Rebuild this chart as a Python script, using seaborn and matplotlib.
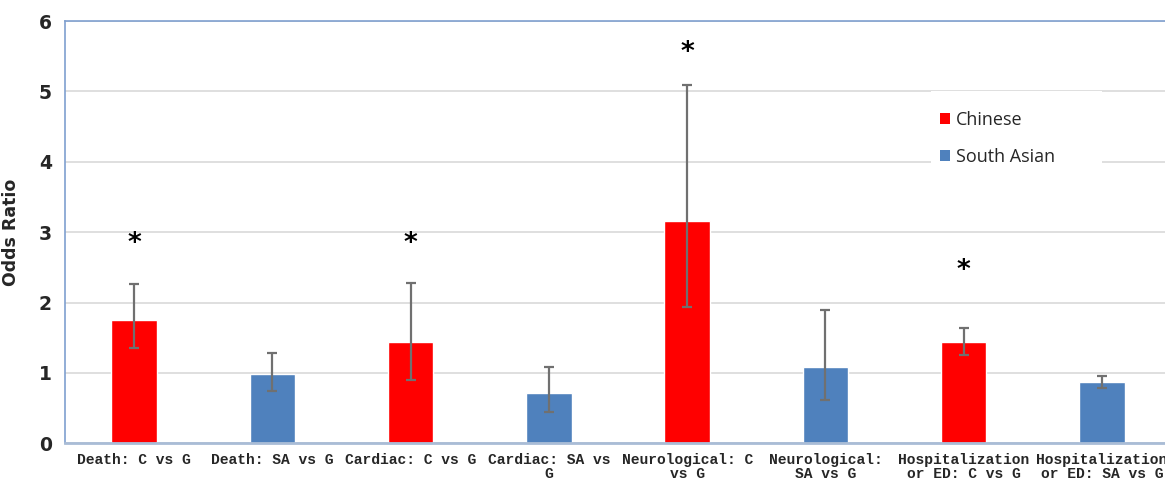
import numpy as np
import pandas as pd
import matplotlib
matplotlib.use("Agg")
import matplotlib.pyplot as plt
import seaborn as sns
from matplotlib.patches import Patch, Rectangle

# data
categories = ["Death: C vs G", "Death: SA vs G", "Cardiac: C vs G", "Cardiac: SA vs\nG",
              "Neurological: C\nvs G", "Neurological:\nSA vs G",
              "Hospitalization\nor ED: C vs G", "Hospitalization\nor ED: SA vs G"]
groups = ["Chinese", "South Asian", "Chinese", "South Asian",
          "Chinese", "South Asian", "Chinese", "South Asian"]
odds = [1.75, 0.99, 1.44, 0.71, 3.16, 1.09, 1.44, 0.87]
ci_low = [1.35, 0.75, 0.90, 0.45, 1.94, 0.62, 1.26, 0.79]
ci_high = [2.27, 1.28, 2.28, 1.09, 5.09, 1.89, 1.64, 0.95]
star_idx = [0, 2, 4, 6]
star_y = [2.83, 2.83, 5.55, 2.45]

colors = {"Chinese": "#FF0000", "South Asian": "#4F81BD"}

df = pd.DataFrame({"cat": categories, "group": groups, "odds": odds})

sns.set_style("white")
fig = plt.figure(figsize=(11.65, 4.79), dpi=100)
ax = fig.add_axes([65 / 1165, 35.7 / 479, 1106 / 1165, 422.3 / 479])

sns.barplot(data=df, x="cat", y="odds", hue="group", palette=colors,
            dodge=False, width=0.33, saturation=1, ax=ax, legend=False,
            order=categories, hue_order=["Chinese", "South Asian"])

x = np.arange(len(categories))
err = [np.array(odds) - np.array(ci_low), np.array(ci_high) - np.array(odds)]
ax.errorbar(x, odds, yerr=err, fmt="none", ecolor="#707070", elinewidth=1.6,
            capsize=3.5, capthick=1.6, zorder=5)

for i, sy in zip(star_idx, star_y):
    ax.text(i, sy, "*", ha="center", va="center", fontsize=19,
            fontweight="bold", color="black", family="DejaVu Sans")

ax.set_xlim(-0.5, 7.5)
ax.set_ylim(0, 6)
ax.set_yticks(range(0, 7))
ax.yaxis.grid(True, color="#D9D9D9", linewidth=1.2)
ax.set_axisbelow(True)
ax.set_xlabel("")
ax.set_ylabel("Odds Ratio", fontsize=12.5, fontweight="bold")
ax.yaxis.set_label_coords(-45 / 1106, 0.5)
ax.tick_params(axis="y", length=0, pad=9.5, labelsize=13.5)
ax.tick_params(axis="x", length=0, pad=7)
for lab in ax.get_yticklabels():
    lab.set_fontweight("bold")
ax.set_xticks(x)
ax.set_xticklabels(categories, family="Liberation Mono", fontweight="bold",
                   fontsize=10.5, linespacing=1.0, va="top")

for side in ["left", "top"]:
    ax.spines[side].set_color("#7FA0CF")
    ax.spines[side].set_linewidth(1.2)
ax.spines["bottom"].set_color("#A9BCD6")
ax.spines["bottom"].set_linewidth(2)
ax.spines["right"].set_visible(False)

# white legend box hiding the gridlines behind it
ax.add_patch(Rectangle(((931 - 65) / 1106, (443.3 - 163) / 422.3),
                       171 / 1106, 72 / 422.3, transform=ax.transAxes,
                       facecolor="white", edgecolor="none", zorder=1.5))

handles = [Patch(facecolor=colors[g], edgecolor="none", label=g)
           for g in ["Chinese", "South Asian"]]
leg = ax.legend(handles=handles, loc="upper left",
                bbox_to_anchor=((936 - 65) / 1106, (443.3 - 107) / 422.3),
                frameon=False, fontsize=13, handlelength=0.55,
                handleheight=0.55, handletextpad=0.35, labelspacing=1.05,
                borderpad=0.2, borderaxespad=0)
for t in leg.get_texts():
    t.set_family("Open Sans")

fig.savefig("out.png", dpi=100)
